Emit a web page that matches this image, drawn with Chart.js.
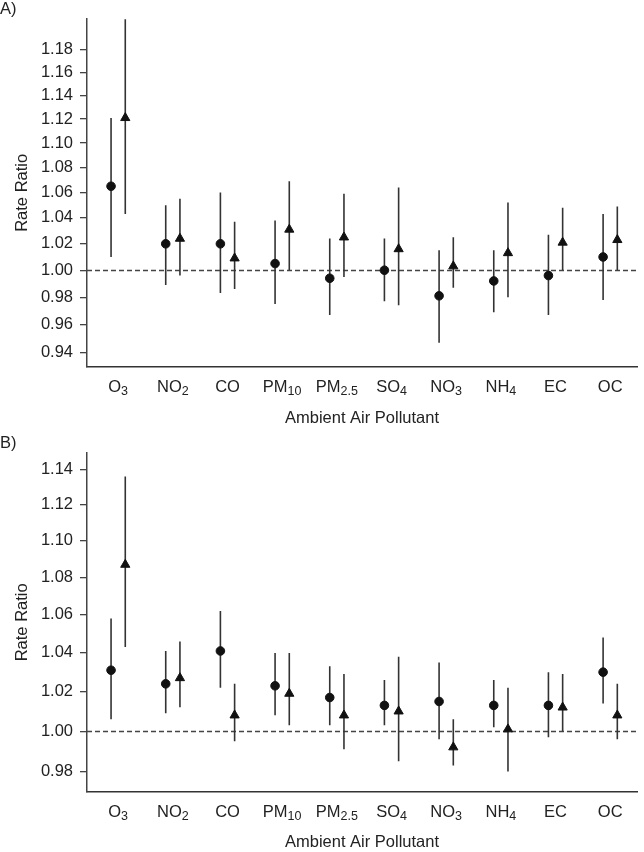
<!DOCTYPE html>
<html>
<head>
<meta charset="utf-8">
<script src="https://cdn.jsdelivr.net/npm/chart.js@4.4.1/dist/chart.umd.min.js"></script>
<style>
  html, body { margin: 0; padding: 0; background: #fff; }
  canvas { display: block; }
</style>
</head>
<body>
<canvas id="panelA" width="644" height="430"></canvas>
<canvas id="panelB" width="644" height="422"></canvas>
<script>
// pollutant categories, drawn with subscripts
const pollutantNames = ["O", "NO", "CO", "PM", "PM", "SO", "NO", "NH", "EC", "OC"];
const pollutantSubs = ["3", "2", "", "10", "2.5", "4", "3", "4", "", ""];

// panel A
const aTicks = [0.94, 0.96, 0.98, 1.00, 1.02, 1.04, 1.06, 1.08, 1.10, 1.12, 1.14, 1.16, 1.18];
const aCircleRR = [1.065, 1.020, 1.020, 1.005, 0.994, 1.000, 0.981, 0.992, 0.996, 1.010];
const aCircleLo = [1.010, 0.989, 0.983, 0.975, 0.967, 0.977, 0.947, 0.969, 0.967, 0.978];
const aCircleHi = [1.121, 1.050, 1.060, 1.038, 1.024, 1.024, 1.015, 1.015, 1.027, 1.043];
const aTriRR = [1.121, 1.024, 1.009, 1.031, 1.025, 1.016, 1.003, 1.013, 1.021, 1.023];
const aTriLo = [1.043, 0.996, 0.986, 1.000, 0.995, 0.974, 0.987, 0.980, 1.000, 1.000];
const aTriHi = [1.207, 1.055, 1.037, 1.069, 1.059, 1.064, 1.025, 1.052, 1.048, 1.049];

// panel B
const bTicks = [0.98, 1.00, 1.02, 1.04, 1.06, 1.08, 1.10, 1.12, 1.14];
const bCircleRR = [1.031, 1.024, 1.041, 1.023, 1.017, 1.013, 1.015, 1.013, 1.013, 1.030];
const bCircleLo = [1.006, 1.009, 1.022, 1.008, 1.003, 1.003, 0.996, 1.002, 0.997, 1.014];
const bCircleHi = [1.058, 1.041, 1.062, 1.040, 1.033, 1.026, 1.035, 1.026, 1.030, 1.048];
const bTriRR = [1.087, 1.027, 1.008, 1.019, 1.008, 1.010, 0.992, 1.001, 1.012, 1.008];
const bTriLo = [1.043, 1.012, 0.995, 1.003, 0.991, 0.985, 0.983, 0.980, 1.000, 0.996];
const bTriHi = [1.136, 1.046, 1.024, 1.040, 1.029, 1.038, 1.006, 1.022, 1.029, 1.024];

const FONT = "'Liberation Sans', Arial, Helvetica, sans-serif";
const INK = "#222";
const PAIR_SHIFT = 0.13;

const errorBars = {
  id: "errorBars",
  beforeDatasetsDraw(chart) {
    const { ctx, chartArea, scales } = chart;
    const x = scales.x;
    const y = scales.y;
    ctx.save();
    ctx.beginPath();
    ctx.rect(chartArea.left, chartArea.top, chartArea.right - chartArea.left, chartArea.bottom - chartArea.top);
    ctx.clip();

    // reference line at 1.00
    ctx.setLineDash([5, 3]);
    ctx.strokeStyle = "#444";
    ctx.lineWidth = 1.3;
    const y1 = Math.round(y.getPixelForValue(1)) + 0.5;
    ctx.beginPath();
    ctx.moveTo(chartArea.left, y1);
    ctx.lineTo(chartArea.right, y1);
    ctx.stroke();

    ctx.setLineDash([]);
    ctx.strokeStyle = "#333";
    ctx.lineWidth = 1.6;
    chart.data.datasets.forEach((ds) => {
      ds.data.forEach((pt, i) => {
        const px = x.getPixelForValue(pt.x);
        ctx.beginPath();
        ctx.moveTo(px, y.getPixelForValue(ds.lo[i]));
        ctx.lineTo(px, y.getPixelForValue(ds.hi[i]));
        ctx.stroke();
      });
    });
    ctx.restore();
  },
  afterDraw(chart) {
    const { ctx, scales } = chart;
    const x = scales.x;
    const baseY = x.top + 20;
    ctx.save();
    ctx.fillStyle = INK;
    ctx.textBaseline = "middle";
    ctx.textAlign = "left";
    pollutantNames.forEach((name, i) => {
      const sub = pollutantSubs[i];
      ctx.font = `16.5px ${FONT}`;
      const mainW = ctx.measureText(name).width;
      ctx.font = `12.5px ${FONT}`;
      const subW = sub ? ctx.measureText(sub).width : 0;
      const left = x.getPixelForValue(i + 1) - (mainW + subW) / 2;
      ctx.font = `16.5px ${FONT}`;
      ctx.fillText(name, left, baseY);
      if (sub) {
        ctx.font = `12.5px ${FONT}`;
        ctx.fillText(sub, left + mainW, baseY + 5);
      }
    });
    ctx.restore();
  },
};

function makePanel(canvasId, opts) {
  const points = (vals, shift) => vals.map((v, i) => ({ x: i + 1 + shift, y: v }));

  return new Chart(document.getElementById(canvasId), {
    type: "scatter",
    data: {
      datasets: [
        {
          data: points(opts.circleRR, -PAIR_SHIFT),
          lo: opts.circleLo,
          hi: opts.circleHi,
          pointStyle: "circle",
          pointRadius: 4.3,
          backgroundColor: "#111",
          borderColor: "#111",
          borderWidth: 1,
        },
        {
          data: points(opts.triRR, PAIR_SHIFT),
          lo: opts.triLo,
          hi: opts.triHi,
          pointStyle: "triangle",
          pointRadius: 5.3,
          backgroundColor: "#111",
          borderColor: "#111",
          borderWidth: 1,
        },
      ],
    },
    options: {
      responsive: false,
      animation: false,
      events: [],
      layout: { padding: { left: 0, right: 7, top: opts.padTop, bottom: 0 } },
      plugins: {
        legend: { display: false },
        tooltip: { enabled: false },
        title: {
          display: true,
          text: opts.label,
          align: "start",
          color: INK,
          font: { family: FONT, size: 16.5, weight: "normal", lineHeight: 1.07 },
          padding: { top: 1, bottom: 0 },
        },
      },
      scales: {
        x: {
          type: "linear",
          min: 0.43,
          max: 10.49,
          ticks: { display: false },
          grid: { display: false, drawTicks: false },
          border: { display: true, color: "#333", width: 1.5 },
          title: {
            display: true,
            text: "Ambient Air Pollutant",
            color: INK,
            font: { family: FONT, size: 16.5 },
            padding: { top: 0, bottom: opts.xTitlePad },
          },
          afterFit: (s) => { s.height = opts.xHeight; },
        },
        y: {
          type: "logarithmic",
          min: opts.yMin,
          max: opts.yMax,
          afterBuildTicks: (s) => { s.ticks = opts.ticks.map((v) => ({ value: v })); },
          ticks: {
            autoSkip: false,
            color: INK,
            padding: 7,
            font: { family: FONT, size: 16.5 },
            callback: (v) => Number(v).toFixed(2),
          },
          grid: { drawOnChartArea: false, drawTicks: true, tickLength: 7, color: "#444", lineWidth: 1.3 },
          border: { display: true, color: "#444", width: 1.5 },
          title: {
            display: true,
            text: "Rate Ratio",
            color: INK,
            font: { family: FONT, size: 16.5 },
            padding: { top: 13, bottom: 0 },
          },
          afterFit: (s) => { s.width = 87; },
        },
      },
    },
    plugins: [errorBars],
  });
}

makePanel("panelA", {
  label: "A)",
  padTop: 0,
  ticks: aTicks,
  yMin: 0.9331,
  yMax: 1.2076,
  xHeight: 63,
  xTitlePad: 2,
  circleRR: aCircleRR, circleLo: aCircleLo, circleHi: aCircleHi,
  triRR: aTriRR, triLo: aTriLo, triHi: aTriHi,
});

makePanel("panelB", {
  label: "B)",
  padTop: 4,
  ticks: bTicks,
  yMin: 0.9706,
  yMax: 1.1497,
  xHeight: 60,
  xTitlePad: 0,
  circleRR: bCircleRR, circleLo: bCircleLo, circleHi: bCircleHi,
  triRR: bTriRR, triLo: bTriLo, triHi: bTriHi,
});
</script>
</body>
</html>
